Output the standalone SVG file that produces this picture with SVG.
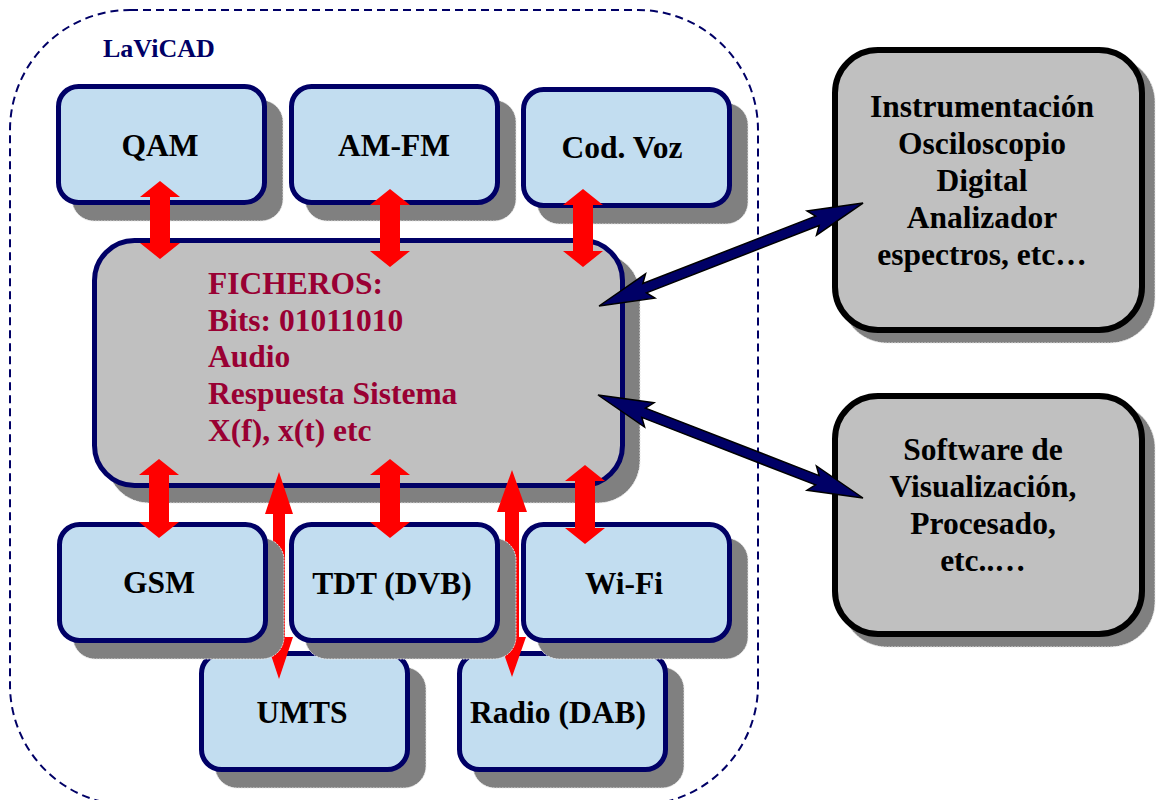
<svg xmlns="http://www.w3.org/2000/svg" width="1160" height="800" viewBox="0 0 1160 800">
<style>
text{font-family:"Liberation Serif","Times New Roman",serif;font-weight:bold;}
.lbl{font-size:31.5px;fill:#000;text-anchor:middle;}
.box{fill:#c2ddf0;stroke:#000066;stroke-width:5;}
.shd{fill:#808080;stroke:#e8e8e8;stroke-width:1;stroke-dasharray:2 1;}
.gbox{fill:#c0c0c0;stroke:#000;stroke-width:6;}
.cbox{fill:#c0c0c0;stroke:#000066;stroke-width:5;}
.red{fill:#ff0000;}
.nav{fill:#000066;stroke:#000;stroke-width:1.5;stroke-linejoin:miter;}
.ftxt{font-size:31.5px;fill:#990033;}
</style>
<rect width="1160" height="800" fill="#fff"/>
<g id="lavicad">
<rect x="10" y="10" width="748" height="795" rx="120" ry="120" fill="none" stroke="#000066" stroke-width="2" stroke-dasharray="8 5"/>
<text x="103" y="57" style="font-size:26px;fill:#000066;">LaViCAD</text>
</g>
<g id="ficheros">
<rect class="shd" x="107" y="253" width="533" height="250" rx="42"/>
<rect class="cbox" x="94.5" y="240.5" width="528" height="245" rx="40"/>
<text class="ftxt" x="208" y="294">FICHEROS:</text>
<text class="ftxt" x="208" y="331">Bits: 01011010</text>
<text class="ftxt" x="208" y="367">Audio</text>
<text class="ftxt" x="208" y="404">Respuesta Sistema</text>
<text class="ftxt" x="208" y="441">X(f), x(t) etc</text>
</g>
<g id="qam">
<rect class="shd" x="72" y="100" width="211" height="121" rx="22"/>
<rect class="box" x="58.5" y="86.5" width="206" height="116" rx="20"/>
<text class="lbl" x="160" y="156">QAM</text>
</g>
<g id="amfm">
<rect class="shd" x="305" y="100" width="211" height="121" rx="22"/>
<rect class="box" x="291.5" y="86.5" width="206" height="116" rx="20"/>
<text class="lbl" x="394" y="156">AM-FM</text>
</g>
<g id="codvoz">
<rect class="shd" x="537" y="103" width="211" height="121" rx="22"/>
<rect class="box" x="523.5" y="89.5" width="206" height="116" rx="20"/>
<text class="lbl" x="622" y="158">Cod. Voz</text>
</g>
<g id="umts">
<rect class="shd" x="215" y="667" width="211" height="121" rx="22"/>
<rect class="box" x="201.5" y="653.5" width="206" height="116" rx="20"/>
<text class="lbl" x="302" y="723">UMTS</text>
</g>
<g id="radio">
<rect class="shd" x="473" y="667" width="211" height="121" rx="22"/>
<rect class="box" x="459.5" y="653.5" width="206" height="116" rx="20"/>
<text class="lbl" x="558" y="723">Radio (DAB)</text>
</g>
<g id="connectors-under">
<polygon class="red" points="279,472 293,514 285,514 285,637 293,637 279,679 265,637 273,637 273,514 265,514"/>
<polygon class="red" points="512,470 527,512 519,512 519,637 526,637 512,677 498,637 505,637 505,512 497,512"/>
</g>
<g id="gsm">
<rect class="shd" x="73" y="538" width="211" height="121" rx="22"/>
<rect class="box" x="59.5" y="524.5" width="206" height="116" rx="20"/>
<text class="lbl" x="159" y="593">GSM</text>
</g>
<g id="tdt">
<rect class="shd" x="305" y="538" width="211" height="121" rx="22"/>
<rect class="box" x="291.5" y="524.5" width="206" height="116" rx="20"/>
<text class="lbl" x="392" y="594">TDT (DVB)</text>
</g>
<g id="wifi">
<rect class="shd" x="537" y="538" width="211" height="121" rx="22"/>
<rect class="box" x="523.5" y="524.5" width="206" height="116" rx="20"/>
<text class="lbl" x="624" y="594">Wi-Fi</text>
</g>
<g id="instrumentacion">
<rect class="shd" x="842" y="57" width="313" height="286" rx="45"/>
<rect class="gbox" x="835" y="50" width="307" height="280" rx="43"/>
<text class="lbl" x="982" y="117">Instrumentación</text>
<text class="lbl" x="982" y="154">Osciloscopio</text>
<text class="lbl" x="982" y="191">Digital</text>
<text class="lbl" x="982" y="228">Analizador</text>
<text class="lbl" x="982" y="265">espectros, etc…</text>
</g>
<g id="software">
<rect class="shd" x="842" y="403" width="313" height="244" rx="45"/>
<rect class="gbox" x="835" y="396" width="307" height="238" rx="43"/>
<text class="lbl" x="983" y="460">Software de</text>
<text class="lbl" x="983" y="497">Visualización,</text>
<text class="lbl" x="983" y="534">Procesado,</text>
<text class="lbl" x="983" y="571">etc..…</text>
</g>
<g id="connectors">
<polygon class="red" points="160,181 180,197 170,197 170,243 180,243 160,259 140,243 150,243 150,197 140,197"/>
<polygon class="red" points="390,189 410,205 400,205 400,251 410,251 390,267 370,251 380,251 380,205 370,205"/>
<polygon class="red" points="583,189 603,205 593,205 593,251 603,251 583,267 563,251 573,251 573,205 563,205"/>
<polygon class="red" points="159,459 179,475 169,475 169,522 179,522 159,538 139,522 149,522 149,475 139,475"/>
<polygon class="red" points="390,459 410,475 400,475 400,522 410,522 390,538 370,522 380,522 380,475 370,475"/>
<polygon class="red" points="585,465 605,481 595,481 595,528 605,528 585,544 565,528 575,528 575,481 565,481"/>
<polygon class="nav" transform="translate(599,306) rotate(-21.31)" points="0,0 55,-13 49,-5 234.4,-5 228.4,-13 283.4,0 228.4,13 234.4,5 49,5 55,13"/>
<polygon class="nav" transform="translate(598,395) rotate(21.24)" points="0,0 55,-13 49,-5 235.3,-5 229.3,-13 284.3,0 229.3,13 235.3,5 49,5 55,13"/>
</g>
</svg>
